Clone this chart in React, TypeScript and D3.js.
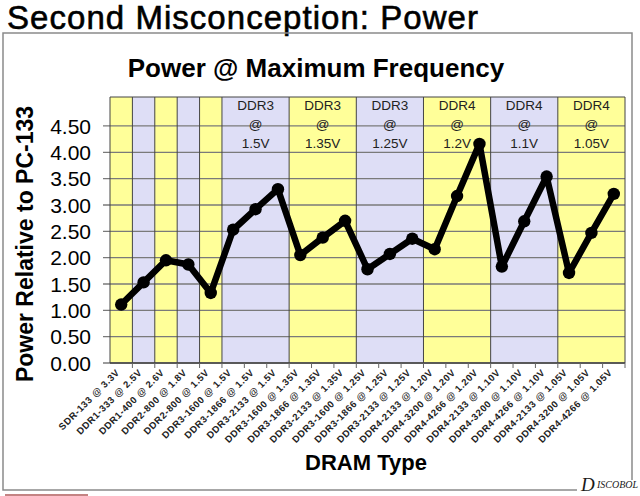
import * as d3 from 'd3';

const categories = [
  'SDR-133 @ 3.3V',
  'DDR1-333 @ 2.5V',
  'DDR1-400 @ 2.6V',
  'DDR2-800 @ 1.8V',
  'DDR2-800 @ 1.5V',
  'DDR3-1600 @ 1.5V',
  'DDR3-1866 @ 1.5V',
  'DDR3-2133 @ 1.5V',
  'DDR3-1600 @ 1.35V',
  'DDR3-1866 @ 1.35V',
  'DDR3-2133 @ 1.35V',
  'DDR3-1600 @ 1.25V',
  'DDR3-1866 @ 1.25V',
  'DDR3-2133 @ 1.25V',
  'DDR4-2133 @ 1.20V',
  'DDR4-3200 @ 1.20V',
  'DDR4-4266 @ 1.20V',
  'DDR4-2133 @ 1.10V',
  'DDR4-3200 @ 1.10V',
  'DDR4-4266 @ 1.10V',
  'DDR4-2133 @ 1.05V',
  'DDR4-3200 @ 1.05V',
  'DDR4-4266 @ 1.05V',
];

const power = [
  1.11, 1.53, 1.95, 1.87, 1.33, 2.53, 2.92, 3.3, 2.05, 2.38, 2.7, 1.78, 2.07, 2.36, 2.16, 3.17, 4.16, 1.83,
  2.69, 3.54, 1.71, 2.47, 3.21,
];

// shaded groups along the x axis
const bandSizes = [1, 1, 1, 1, 1, 3, 3, 3, 3, 3, 3];
const bandTitles = ['', '', '', '', '', 'DDR3', 'DDR3', 'DDR3', 'DDR4', 'DDR4', 'DDR4'];
const bandVolts = ['', '', '', '', '', '1.5V', '1.35V', '1.25V', '1.2V', '1.1V', '1.05V'];

const yTicks = [0, 0.5, 1, 1.5, 2, 2.5, 3, 3.5, 4, 4.5];

const font = "'Liberation Sans', Arial, sans-serif";
const yellow = '#ffff99';
const lavender = '#dedef6';

function App() {
  const plot = { left: 110, right: 625, top: 97, bottom: 363 };
  const x = d3.scaleBand<string>().domain(categories).range([plot.left, plot.right]).padding(0);
  const y = d3.scaleLinear().domain([0, 5.05]).range([plot.bottom, plot.top]);
  const step = x.step();

  let start = 0;
  const bands = bandSizes.map((size, i) => {
    const x0 = x(categories[start]) ?? 0;
    const band = { x0, x1: x0 + size * step, title: bandTitles[i], volts: bandVolts[i], fill: i % 2 === 0 ? yellow : lavender };
    start += size;
    return band;
  });

  const points = power.map((value, i) => ({ cx: (x(categories[i]) ?? 0) + step / 2, cy: y(value) }));
  const line = d3
    .line<{ cx: number; cy: number }>()
    .x((d) => d.cx)
    .y((d) => d.cy);

  return (
    <svg width={640} height={496} style={{ position: 'absolute', left: 0, top: 0, background: '#fff' }} fontFamily={font}>
      <text x={7} y={29} fontSize={33} fill="#000" stroke="#000" strokeWidth={0.6} textLength={471}>
        Second Misconception: Power
      </text>

      <path d="M577,490 H3 V33 H632 V480" fill="none" stroke="#8a8a8a" strokeWidth={1.5} />
      <line x1={5} x2={88} y1={495} y2={495} stroke="#b05a5a" strokeWidth={1.5} />

      <text x={316} y={77} fontSize={26} fontWeight="bold" textAnchor="middle" fill="#000">
        Power @ Maximum Frequency
      </text>

      {bands.map((b, i) => (
        <rect key={`band-${i}`} x={b.x0} y={plot.top} width={b.x1 - b.x0} height={plot.bottom - plot.top} fill={b.fill} />
      ))}

      {yTicks.map((t) => (
        <line key={`grid-${t}`} x1={plot.left - 7} x2={plot.right} y1={y(t)} y2={y(t)} stroke="#7a7a7a" strokeWidth={1.3} />
      ))}

      {bands.map((b, i) => (
        <line key={`sep-${i}`} x1={b.x0} x2={b.x0} y1={plot.top} y2={plot.bottom} stroke="#444" strokeWidth={1} />
      ))}
      <line x1={plot.right} x2={plot.right} y1={plot.top} y2={plot.bottom} stroke="#444" strokeWidth={1} />
      <line x1={plot.left} x2={plot.right} y1={plot.top} y2={plot.top} stroke="#444" strokeWidth={1} />
      <line x1={plot.left} x2={plot.right} y1={plot.bottom} y2={plot.bottom} stroke="#444" strokeWidth={1.3} />

      {categories.map((c, i) => (
        <line
          key={`xt-${i}`}
          x1={(x(c) ?? 0) + step}
          x2={(x(c) ?? 0) + step}
          y1={plot.bottom}
          y2={plot.bottom + 5}
          stroke="#666"
        />
      ))}

      {bands.map((b, i) =>
        b.title ? (
          <g key={`lab-${i}`} fontSize={13.5} textAnchor="middle" fill="#222">
            <text x={(b.x0 + b.x1) / 2} y={110}>
              {b.title}
            </text>
            <text x={(b.x0 + b.x1) / 2} y={129}>
              @
            </text>
            <text x={(b.x0 + b.x1) / 2} y={148}>
              {b.volts}
            </text>
          </g>
        ) : null,
      )}

      <path d={line(points) ?? ''} fill="none" stroke="#000" strokeWidth={6.5} strokeLinejoin="round" />
      {points.map((p, i) => (
        <circle key={`pt-${i}`} cx={p.cx} cy={p.cy} r={6.2} fill="#000" />
      ))}

      {yTicks.map((t) => (
        <text key={`yl-${t}`} x={91} y={y(t)} dy="0.36em" fontSize={21} textAnchor="end" fill="#000">
          {t.toFixed(2)}
        </text>
      ))}

      <text
        transform={`translate(33,244) rotate(-90)`}
        fontSize={23}
        fontWeight="bold"
        textAnchor="middle"
        fill="#000"
      >
        Power Relative to PC-133
      </text>

      {categories.map((c, i) => {
        const cx = (x(c) ?? 0) + step / 2 - 1;
        return (
          <text
            key={`xl-${i}`}
            transform={`translate(${cx},373) rotate(-45)`}
            fontSize={9.5}
            fontWeight="bold"
            letterSpacing={0.6}
            textAnchor="end"
            fill="#222"
          >
            {c}
          </text>
        );
      })}

      <text x={366} y={470} fontSize={22} fontWeight="bold" textAnchor="middle" fill="#000">
        DRAM Type
      </text>

      <g fontFamily="'Liberation Serif', 'DejaVu Serif', serif" fontStyle="italic" fill="#1a1a1a">
        <text x={581} y={491} fontSize={19}>
          D
        </text>
        <text x={597} y={488} fontSize={10} textLength={41} lengthAdjust="spacingAndGlyphs">
          ISCOBOL
        </text>
      </g>
    </svg>
  );
}

export default App;
